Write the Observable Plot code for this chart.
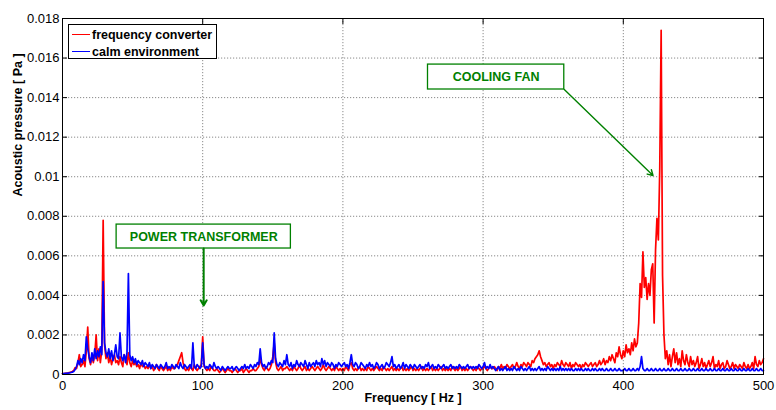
<!DOCTYPE html>
<html><head><meta charset="utf-8">
<script src="https://cdn.jsdelivr.net/npm/d3@7"></script>
<script src="https://cdn.jsdelivr.net/npm/@observablehq/plot@0.6"></script>
<style>
html,body{margin:0;padding:0;background:#fff;}
#wrap{position:relative;width:776px;height:410px;font-family:"Liberation Sans",Arial,sans-serif;}
#legend{position:absolute;left:68px;top:24px;width:147px;height:33px;border:1px solid #000;background:#fff;font-weight:bold;font-size:12.5px;color:#000;}
.row{position:absolute;left:3px;display:flex;align-items:center;height:15px;white-space:nowrap;}
.sw{width:18px;height:0;border-top:1.5px solid;margin-right:2px;}
</style></head><body><div id="wrap"></div>
<script>
// Frequency axis: 1 Hz steps from 0 to 500 Hz
// Acoustic pressure values in mPa (tick labels shown in Pa)
const seriesNames = ["frequency converter", "calm environment"];
const seriesColors = ["#ff0000", "#0000ff"];

const converter = [
0.05,0.05,0.06,0.07,0.08,0.1,0.12,0.15,0.2,0.35,0.3,0.6,1.0,0.4,0.5,0.7,0.4,1.2,2.4,0.8,
0.5,0.9,0.6,1.0,2.0,0.7,1.3,0.6,1.2,7.8,1.5,0.8,1.1,0.6,0.9,0.5,0.8,1.0,0.6,0.7,
0.5,0.9,0.6,0.4,1.0,0.8,0.5,1.1,0.6,0.4,0.7,0.5,0.6,0.4,0.5,0.3,0.6,0.4,0.5,0.3,
0.4,0.3,0.5,0.3,0.4,0.2,0.3,0.5,0.3,0.2,0.4,0.3,0.2,0.3,0.4,0.2,0.3,0.2,0.4,0.3,
0.3,0.4,0.5,0.7,0.9,1.1,0.6,0.3,0.2,0.3,0.2,0.4,0.3,0.2,0.5,0.3,0.2,0.3,0.4,0.5,
1.9,0.4,0.3,0.2,0.3,0.2,0.4,0.3,0.2,0.2,0.3,0.2,0.1,0.2,0.3,0.2,0.1,0.2,0.3,0.2,
0.2,0.1,0.2,0.3,0.2,0.1,0.2,0.2,0.3,0.1,0.2,0.3,0.2,0.1,0.2,0.2,0.3,0.2,0.2,0.3,
0.4,0.8,0.5,0.3,0.2,0.4,0.3,0.2,0.3,0.5,0.9,1.6,0.6,0.3,0.2,0.3,0.4,0.2,0.3,0.3,
0.4,0.3,0.2,0.3,0.2,0.4,0.3,0.2,0.3,0.5,0.3,0.2,0.3,0.4,0.2,0.3,0.2,0.3,0.4,0.3,
0.2,0.3,0.4,0.3,0.2,0.3,0.5,0.3,0.2,0.3,0.4,0.3,0.2,0.3,0.2,0.4,0.3,0.2,0.3,0.2,
0.3,0.2,0.4,0.3,0.2,0.5,0.6,0.3,0.2,0.3,0.2,0.3,0.4,0.2,0.3,0.2,0.3,0.2,0.4,0.3,
0.2,0.3,0.2,0.3,0.4,0.3,0.2,0.3,0.2,0.4,0.3,0.2,0.3,0.2,0.3,0.4,0.2,0.3,0.2,0.3,
0.2,0.3,0.4,0.2,0.3,0.2,0.3,0.2,0.3,0.4,0.2,0.3,0.2,0.3,0.2,0.3,0.4,0.2,0.3,0.2,
0.3,0.2,0.3,0.4,0.2,0.3,0.2,0.3,0.2,0.3,0.4,0.2,0.3,0.2,0.3,0.2,0.3,0.2,0.4,0.3,
0.2,0.3,0.2,0.3,0.4,0.2,0.3,0.2,0.3,0.2,0.3,0.4,0.3,0.2,0.3,0.2,0.4,0.3,0.2,0.3,
0.3,0.4,0.3,0.2,0.3,0.4,0.3,0.3,0.4,0.3,0.2,0.4,0.3,0.5,0.3,0.4,0.3,0.5,0.4,0.3,
0.4,0.5,0.3,0.4,0.6,0.4,0.3,0.5,0.4,0.6,0.5,0.4,0.6,0.5,0.4,0.7,0.6,0.8,0.9,1.0,
1.2,0.9,0.7,0.5,0.6,0.4,0.5,0.6,0.4,0.5,0.3,0.5,0.4,0.6,0.5,0.4,0.7,0.5,0.4,0.6,
0.5,0.4,0.6,0.3,0.5,0.4,0.6,0.5,0.4,0.5,0.3,0.5,0.4,0.6,0.5,0.4,0.5,0.6,0.4,0.5,
0.6,0.4,0.5,0.7,0.5,0.6,0.8,0.5,0.7,0.6,0.9,0.7,1.0,0.8,0.6,1.1,0.9,1.4,1.0,0.8,
1.2,0.9,1.5,1.1,1.3,1.0,1.6,1.2,1.8,1.4,1.6,2.6,4.6,3.9,6.2,4.4,4.9,3.8,4.6,4.0,
5.3,5.6,2.6,6.3,7.9,6.8,10.4,17.4,5.0,2.0,0.8,1.2,0.5,1.0,0.4,0.9,1.3,0.6,1.1,0.5,
0.8,0.4,1.2,0.7,0.5,1.0,0.6,0.4,0.9,0.5,0.7,0.4,0.6,0.9,0.3,0.5,0.8,0.4,0.6,0.3,
0.5,0.7,0.4,0.6,0.9,0.3,0.5,0.4,0.7,0.3,0.5,0.6,0.3,0.4,0.7,0.5,0.3,0.4,0.6,0.3,
0.5,0.4,0.3,0.5,0.4,0.3,0.6,0.4,0.3,0.5,0.3,0.4,0.6,0.3,0.9,0.5,0.4,0.7,0.5,0.6,
0.8];

const calm = [
0.05,0.05,0.06,0.06,0.07,0.08,0.1,0.12,0.15,0.25,0.4,0.7,0.5,0.8,0.6,1.0,0.7,1.9,1.3,0.9,
0.6,1.1,0.7,1.3,0.8,1.2,0.9,1.4,1.0,4.7,1.6,1.1,0.9,1.3,0.8,1.2,0.7,1.0,1.5,0.9,
0.8,2.1,0.9,0.7,1.0,0.6,1.1,5.1,1.0,0.7,0.9,0.6,0.8,0.5,0.7,0.6,0.5,0.7,0.4,0.6,
0.5,0.4,0.6,0.3,0.5,0.4,0.3,0.5,0.4,0.3,0.5,0.4,0.3,0.4,0.6,0.3,0.4,0.3,0.5,0.4,
0.3,0.5,0.4,0.3,0.6,0.4,0.3,0.5,0.4,0.3,0.4,0.5,0.3,1.6,0.4,0.3,0.5,0.4,0.3,0.4,
1.6,0.5,0.3,0.4,0.3,0.5,0.4,0.3,0.6,0.4,0.3,0.4,0.3,0.2,0.4,0.3,0.2,0.3,0.4,0.3,
0.3,0.4,0.2,0.3,0.4,0.3,0.2,0.3,0.4,0.3,0.5,0.3,0.4,0.3,0.5,0.4,0.3,0.5,0.4,0.6,
0.5,1.3,0.6,0.4,0.5,0.3,0.4,0.6,0.5,0.7,0.6,2.1,0.8,0.5,0.4,0.6,0.5,0.4,0.7,0.5,
1.0,0.5,0.4,0.6,0.3,0.5,0.4,0.7,0.5,0.4,0.6,0.5,0.4,0.7,0.5,0.3,0.6,0.4,0.5,0.6,
0.4,0.7,0.5,0.6,0.4,0.8,0.5,0.7,0.4,0.6,0.5,0.4,0.6,0.5,0.3,0.5,0.4,0.6,0.5,0.4,
0.5,0.6,0.4,0.5,0.3,0.6,1.0,0.5,0.4,0.6,0.5,0.3,0.4,0.6,0.5,0.4,0.3,0.5,0.4,0.6,
0.4,0.5,0.3,0.4,0.6,0.5,0.3,0.4,0.5,0.3,0.4,0.6,0.5,0.4,0.6,0.9,0.4,0.5,0.3,0.4,
0.5,0.3,0.4,0.6,0.3,0.5,0.4,0.3,0.5,0.4,0.3,0.5,0.4,0.3,0.4,0.5,0.3,0.4,0.3,0.5,
0.4,0.6,0.3,0.4,0.5,0.3,0.4,0.3,0.5,0.4,0.3,0.4,0.5,0.3,0.4,0.3,0.4,0.5,0.3,0.4,
0.3,0.4,0.3,0.5,0.4,0.3,0.4,0.3,0.4,0.5,0.3,0.4,0.3,0.4,0.3,0.4,0.3,0.5,0.4,0.3,
0.4,0.6,0.3,0.4,0.3,0.5,0.3,0.4,0.3,0.2,0.3,0.4,0.2,0.3,0.2,0.3,0.4,0.2,0.3,0.2,
0.3,0.2,0.4,0.3,0.2,0.3,0.2,0.4,0.3,0.2,0.3,0.2,0.3,0.4,0.2,0.3,0.2,0.3,0.2,0.3,
0.4,0.2,0.3,0.2,0.3,0.2,0.4,0.3,0.2,0.3,0.2,0.3,0.2,0.3,0.2,0.4,0.2,0.3,0.2,0.3,
0.2,0.3,0.2,0.3,0.2,0.2,0.3,0.2,0.3,0.2,0.3,0.2,0.2,0.3,0.2,0.3,0.2,0.2,0.3,0.2,
0.3,0.2,0.2,0.3,0.2,0.3,0.2,0.2,0.3,0.2,0.2,0.3,0.2,0.2,0.3,0.2,0.2,0.3,0.2,0.2,
0.2,0.3,0.2,0.2,0.3,0.2,0.2,0.3,0.2,0.2,0.3,0.2,0.4,0.9,0.3,0.2,0.2,0.3,0.2,0.2,
0.3,0.2,0.2,0.3,0.2,0.2,0.3,0.2,0.2,0.3,0.2,0.2,0.3,0.2,0.2,0.3,0.2,0.2,0.3,0.2,
0.2,0.3,0.2,0.2,0.3,0.2,0.2,0.3,0.2,0.2,0.3,0.2,0.2,0.3,0.2,0.2,0.3,0.2,0.2,0.3,
0.2,0.2,0.3,0.2,0.2,0.3,0.2,0.2,0.3,0.2,0.2,0.3,0.2,0.2,0.3,0.2,0.2,0.3,0.2,0.2,
0.3,0.2,0.2,0.3,0.2,0.2,0.3,0.2,0.2,0.3,0.2,0.2,0.3,0.2,0.2,0.3,0.2,0.2,0.3,0.2,
0.2];

const xTicks = [0, 100, 200, 300, 400, 500];
const yTicks = [0, 2, 4, 6, 8, 10, 12, 14, 16, 18]; // mPa
const yTickLabels = ["0","0.002","0.004","0.006","0.008","0.01","0.012","0.014","0.016","0.018"];

// Annotations (data units: Hz, mPa)
const notes = [
  {label: "COOLING FAN", bx1: 260.7, bx2: 357.9, by1: 14.41, by2: 15.67, ax1: 357.9, ay1: 14.41, ax2: 421.2, ay2: 10.06, w: 1.4},
  {label: "POWER TRANSFORMER", bx1: 38.6, bx2: 162.9, by1: 6.37, by2: 7.58, ax1: 100.7, ay1: 6.37, ax2: 100.7, ay2: 3.49, w: 2}
];

const rowsConv = converter.map((v, i) => ({f: i, v}));
const rowsCalm = calm.map((v, i) => ({f: i, v}));

const green = "#008000";
const plot = Plot.plot({
  width: 776, height: 410,
  marginLeft: 62, marginRight: 13, marginTop: 18, marginBottom: 36,
  style: {fontFamily: '"Liberation Sans", Arial, sans-serif', fontSize: "13px", color: "#000", background: "#fff"},
  x: {domain: [0, 500]},
  y: {domain: [0, 18]},
  marks: [
    Plot.gridX(xTicks, {stroke: "#8a8a8a", strokeOpacity: 1, strokeDasharray: "1.2,1.8"}),
    Plot.gridY(yTicks, {stroke: "#8a8a8a", strokeOpacity: 1, strokeDasharray: "1.2,1.8"}),
    Plot.line(rowsConv, {x: "f", y: "v", stroke: seriesColors[0], strokeWidth: 1.7}),
    Plot.line(rowsCalm, {x: "f", y: "v", stroke: seriesColors[1], strokeWidth: 1.7}),
    Plot.rect(notes, {x1: "bx1", x2: "bx2", y1: "by1", y2: "by2", fill: "#fff", stroke: green, strokeWidth: 1.3}),
    Plot.text(notes, {x: d => (d.bx1 + d.bx2) / 2, y: d => (d.by1 + d.by2) / 2, text: "label", fill: green, fontWeight: "bold", fontSize: 12.5}),
    Plot.arrow(notes, {x1: "ax1", y1: "ay1", x2: "ax2", y2: "ay2", stroke: green, strokeWidth: "w", headLength: 9, bend: 0}),
    Plot.frame({stroke: "#000", strokeWidth: 1}),
    Plot.axisX({ticks: xTicks, tickSize: -5, tickPadding: 11, label: null, fill: "#000"}),
    Plot.axisX({anchor: "top", ticks: xTicks, tickSize: -5, tickFormat: () => "", label: null}),
    Plot.axisY({ticks: yTicks, tickSize: -5, tickPadding: 8, label: null, tickFormat: (d, i) => yTickLabels[yTicks.indexOf(d)], fill: "#000"}),
    Plot.axisY({anchor: "right", ticks: yTicks, tickSize: -5, tickFormat: () => "", label: null}),
    Plot.text(["Frequency [ Hz ]"], {frameAnchor: "bottom", dy: 27, fontWeight: "bold", fontSize: 12.5, fill: "#000"}),
    Plot.text(["Acoustic pressure [ Pa ]"], {frameAnchor: "left", rotate: -90, dx: -45, fontWeight: "bold", fontSize: 12.5, fill: "#000"})
  ]
});
const wrap = document.getElementById("wrap");
wrap.appendChild(plot);
const legend = document.createElement("div");
legend.id = "legend";
seriesNames.forEach((name, i) => {
  const row = document.createElement("div");
  row.className = "row";
  row.style.top = (i === 0 ? 2 : 19) + "px";
  const sw = document.createElement("span");
  sw.className = "sw";
  sw.style.borderTopColor = seriesColors[i];
  const t = document.createElement("span");
  t.textContent = name;
  row.appendChild(sw); row.appendChild(t);
  legend.appendChild(row);
});
wrap.appendChild(legend);
</script></body></html>
